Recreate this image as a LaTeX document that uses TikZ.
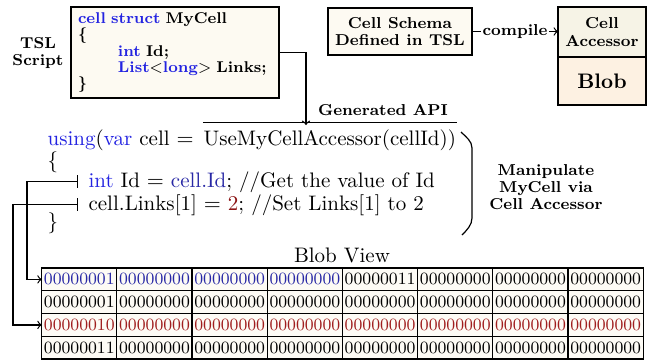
\documentclass[tikz,border=0pt]{standalone}
\usepackage{tikz}
\usetikzlibrary{calc}
\usetikzlibrary{positioning}

\definecolor{kwblue}{RGB}{35,35,225}
\definecolor{accblue}{RGB}{40,40,165}
\definecolor{numred}{RGB}{140,20,20}
\definecolor{bytered}{RGB}{160,30,30}
\definecolor{tslfill}{RGB}{253,250,242}
\definecolor{accfill}{RGB}{246,243,230}
\definecolor{blobfill}{RGB}{253,241,226}
\definecolor{tablefill}{RGB}{253,251,245}

\tikzset{
  lbl/.style={font=\bfseries\fontsize{7.9}{8.6}\selectfont, align=center},
  codebox/.style={draw, fill=tslfill, inner sep=0pt, outer sep=0pt, align=center},
  code/.style={font=\fontsize{10.5}{12}\selectfont, anchor=base west, inner sep=0pt},
  byte/.style={draw, fill=tablefill, minimum width=37.6pt, minimum height=11.375pt,
    inner sep=0pt, outer sep=0pt, font=\fontsize{8.6}{10}\selectfont}
}

\begin{document}
\begin{tikzpicture}[x=0.5pt, y=-0.5pt, line width=0.6pt]
\useasboundingbox (0,0) rectangle (650,360);

% TSL script
\node[lbl] (tsllbl) at (38,53) {TSL\\Script};
\node[codebox, align=left, text width=97pt, inner xsep=3.5pt, minimum height=45.5pt,
      font=\bfseries\fontsize{7.8}{8.2}\selectfont] (tsl) at (175,52.5) {%
  {\color{kwblue}cell struct} MyCell\\
  \{\\
  \hspace*{20pt}{\color{kwblue}int} Id;\\
  \hspace*{20pt}{\color{kwblue}List}$<${\color{kwblue}long}$>$ Links;\\
  \}};

% schema and accessor
\node[codebox, lbl, minimum width=72pt, minimum height=23.5pt] (schema) at (400,31.5)
  {Cell Schema\\Defined in TSL};
\node[codebox, lbl, fill=accfill, minimum width=44pt, minimum height=25pt] (accessor) at (602,32)
  {Cell\\Accessor};
\node[codebox, fill=blobfill, minimum width=44pt, minimum height=24pt,
      font=\bfseries\fontsize{10.5}{12}\selectfont, below=0pt of accessor] (blob) {Blob};
\draw[->] (schema.east) -- node[lbl, fill=white, inner sep=1pt] (compile) {compile}
  (schema.east -| accessor.west);

% generated code
\node[code] (using) at (47,145) {{\color{kwblue}using}({\color{kwblue}var} cell $=$};
\node[code] (api) at (203,145) {UseMyCellAccessor(cellId))};
\draw (api.north west) ++(0,-6) -- ($(api.north east)+(0,-6)$);
\coordinate (hit) at (306,125);
\draw[->] (tsl.east) -| (hit);
\node[lbl] (apilbl) at (383,110) {Generated API};

\node[code] (open) at (47,167) {\{};
\node[code] (idline) at (88,187)
  {{\color{kwblue}int} Id $=$ {\color{accblue}cell.Id}; //Get the value of Id};
\node[code] (linkline) at (88,210)
  {cell.Links[1] $=$ {\color{numred}2}; //Set Links[1] to 2};
\node[code] (close) at (47,228) {\}};

% brace
\draw (461,132) .. controls (466,137) and (472,141) .. (472,148) -- (472,218)
  .. controls (472,225) and (467,230) .. (462,235);
\node[lbl] (manip) at (546,187) {Manipulate\\MyCell via\\Cell Accessor};

% blob view
\node[font=\fontsize{10.5}{12}\selectfont] (blobview) at (342,255) {Blob View};
\foreach \r/\lead/\clr/\ncol in {0/00000001/accblue/4, 1/00000001/black/0,
                                  2/00000010/bytered/8, 3/00000011/black/0} {
  \foreach \c in {0,...,7} {
    \ifnum\c<\ncol \def\tc{\clr}\else\def\tc{black}\fi
    \ifnum\c=0 \def\val{\lead}\else\def\val{00000000}\fi
    \ifnum\r=0 \ifnum\c=4 \def\val{00000011}\fi\fi
    \node[byte, text=\tc] (b\r\c) at (79.3+\c*75.2, 279.4+\r*22.75) {\val};
  }
}

% connectors into the blob
\draw[|->] ([xshift=-5pt]idline.west) -- ++(-25.5pt,0) |- (b00.west);
\draw[|->] ([xshift=-5pt]linkline.west) -- ++(-32.5pt,0) |- (b20.west);
\end{tikzpicture}
\end{document}
